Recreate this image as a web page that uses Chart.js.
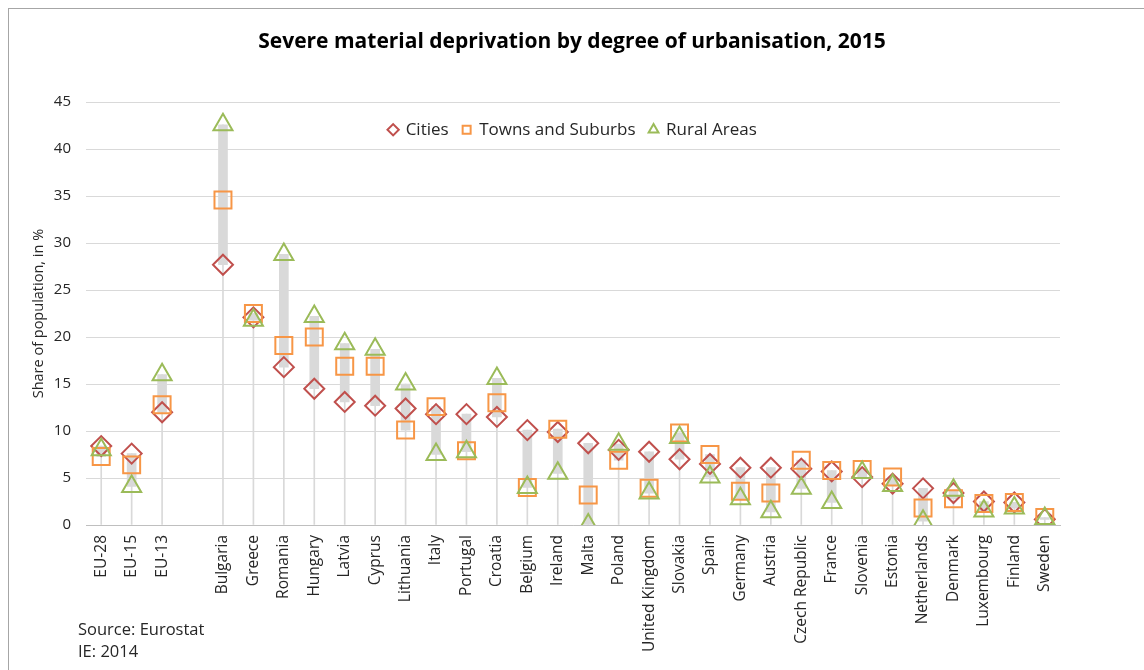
<!DOCTYPE html>
<html>
<head>
<meta charset="utf-8">
<title>Severe material deprivation by degree of urbanisation, 2015</title>
<script src="https://cdn.jsdelivr.net/npm/chart.js@4.4.1/dist/chart.umd.min.js"></script>
<style>
  body { margin: 0; background: #fff; }
  .wrap { position: relative; width: 1144px; height: 670px; overflow: hidden; }
  .marco { position: absolute; left: 8px; top: 8px; width: 1200px; height: 700px; border: 1px solid #a6a6a6; }
  canvas { position: absolute; left: 0; top: 0; }
  .fuente { position: absolute; left: 78px; font-family: 'Open Sans', sans-serif; font-size: 16.5px; color: #262626; }
</style>
</head>
<body>
<div class="wrap">
  <div class="marco"></div>
  <canvas id="grafico" width="1144" height="670"></canvas>
  <div class="fuente" style="top:617px">Source: Eurostat</div>
  <div class="fuente" style="top:639px">IE: 2014</div>
</div>
<script>
// =======================
// DATOS
// =======================
const countries = ["EU-28", "EU-15", "EU-13", "", "Bulgaria", "Greece", "Romania", "Hungary", "Latvia",
  "Cyprus", "Lithuania", "Italy", "Portugal", "Croatia", "Belgium", "Ireland", "Malta", "Poland",
  "United Kingdom", "Slovakia", "Spain", "Germany", "Austria", "Czech Republic", "France", "Slovenia",
  "Estonia", "Netherlands", "Denmark", "Luxembourg", "Finland", "Sweden"];

const cities = [8.4, 7.6, 12.0, null, 27.7, 22.1, 16.8, 14.5, 13.1, 12.7, 12.4, 11.8, 11.8, 11.5, 10.1, 9.9,
  8.7, 8.0, 7.8, 7.0, 6.5, 6.1, 6.1, 6.0, 5.7, 5.1, 4.4, 3.9, 3.4, 2.5, 2.4, 0.6];

const towns = [7.3, 6.4, 12.8, null, 34.6, 22.5, 19.1, 20.0, 16.9, 16.9, 10.1, 12.6, 7.9, 13.0, 4.0, 10.2,
  3.2, 6.9, 3.9, 9.8, 7.5, 3.6, 3.4, 6.9, 5.8, 5.9, 5.1, 1.8, 2.8, 2.3, 2.4, 0.8];

const rural = [8.0, 4.1, 16.0, null, 42.6, 21.8, 28.8, 22.2, 19.3, 18.7, 15.0, 7.5, 7.8, 15.6, 4.0, 5.5,
  0.0, 8.6, 3.4, 9.3, 5.1, 2.8, 1.4, 3.9, 2.4, 5.6, 4.2, 0.4, 3.7, 1.5, 1.8, 0.7];

const yTicks = [0, 5, 10, 15, 20, 25, 30, 35, 40, 45];

// rango alto-bajo y linea de caida, sacados de las series
const highLow = countries.map((c, i) => cities[i] === null ? null :
  [Math.min(cities[i], towns[i], rural[i]), Math.max(cities[i], towns[i], rural[i])]);
const dropLine = countries.map((c, i) => cities[i] === null ? null :
  [0, Math.max(cities[i], towns[i], rural[i])]);

// leyenda dentro del area, pero en una fila
const legendInRow = {
  id: "legendInRow",
  beforeUpdate(chart) {
    if (chart.legend) chart.legend.isHorizontal = () => true;
  },
  afterLayout(chart) {
    const lg = chart.legend;
    if (!lg) return;
    lg.left = chart.chartArea.left;
    lg.right = chart.chartArea.right;
    lg.top = chart.chartArea.top + 5;
    lg.bottom = lg.top + lg.height;
  }
};

// =======================
// GRAFICO
// =======================
Chart.defaults.font.family = "'Open Sans', sans-serif";
Chart.defaults.color = "#262626";

new Chart(document.getElementById("grafico"), {
  type: "bar",
  plugins: [legendInRow],
  data: {
    labels: countries,
    datasets: [
      {
        label: "drop",
        data: dropLine,
        backgroundColor: "#d9d9d9",
        barThickness: 1,
        grouped: false,
        order: 6
      },
      {
        label: "range",
        data: highLow,
        backgroundColor: "#d9d9d9",
        barThickness: 9,
        grouped: false,
        order: 5
      },
      {
        type: "line",
        label: "Cities",
        data: cities,
        showLine: false,
        pointStyle: "rectRot",
        pointRadius: 10,
        pointHoverRadius: 10,
        borderColor: "#c0504d",
        backgroundColor: "rgba(0,0,0,0)",
        borderWidth: 2,
        order: 3
      },
      {
        type: "line",
        label: "Towns and Suburbs",
        data: towns,
        showLine: false,
        pointStyle: "rect",
        pointRadius: 12,
        pointHoverRadius: 12,
        borderColor: "#f79646",
        backgroundColor: "rgba(0,0,0,0)",
        borderWidth: 2,
        order: 2
      },
      {
        type: "line",
        label: "Rural Areas",
        data: rural,
        showLine: false,
        pointStyle: "triangle",
        pointRadius: 11,
        pointHoverRadius: 11,
        borderColor: "#9bbb59",
        backgroundColor: "rgba(0,0,0,0)",
        borderWidth: 2,
        order: 1
      }
    ]
  },
  options: {
    responsive: false,
    animation: false,
    layout: {
      padding: { left: 20, right: 20, top: 0, bottom: 15 }
    },
    plugins: {
      title: {
        display: true,
        text: "Severe material deprivation by degree of urbanisation, 2015",
        color: "#000",
        font: { size: 21, weight: "bold" },
        padding: { top: 29, bottom: 48 }
      },
      legend: {
        position: "chartArea",
        labels: {
          usePointStyle: true,
          boxWidth: 8,
          boxHeight: 8,
          padding: 14,
          color: "#262626",
          font: { size: 17 },
          filter: item => item.datasetIndex >= 2,
          sort: (a, b) => a.datasetIndex - b.datasetIndex
        }
      },
      tooltip: { enabled: false }
    },
    scales: {
      x: {
        grid: { display: false, drawTicks: false },
        border: { display: true, color: "#bfbfbf" },
        ticks: {
          autoSkip: false,
          maxRotation: 90,
          minRotation: 90,
          padding: 10,
          font: { size: 15.5 },
          color: "#262626"
        },
        afterFit: scale => { scale.height = 130; }
      },
      y: {
        min: 0,
        max: 45,
        afterBuildTicks: scale => { scale.ticks = yTicks.map(v => ({ value: v })); },
        grid: { color: "#d9d9d9", drawTicks: false },
        border: { display: false },
        ticks: { padding: 15, font: { size: 15 }, color: "#262626" },
        title: {
          display: true,
          text: "Share of population, in %",
          font: { size: 14.5 },
          color: "#262626",
          padding: { top: 10, bottom: 0 }
        },
        afterFit: scale => { scale.width = 66; }
      },
      // espacio vacio a la derecha, para centrar el titulo en el lienzo
      yRight: {
        position: "right",
        min: 0,
        max: 45,
        grid: { display: false, drawTicks: false },
        border: { display: false },
        ticks: { display: false },
        afterFit: scale => { scale.width = 64; }
      }
    }
  }
});
</script>
</body>
</html>
